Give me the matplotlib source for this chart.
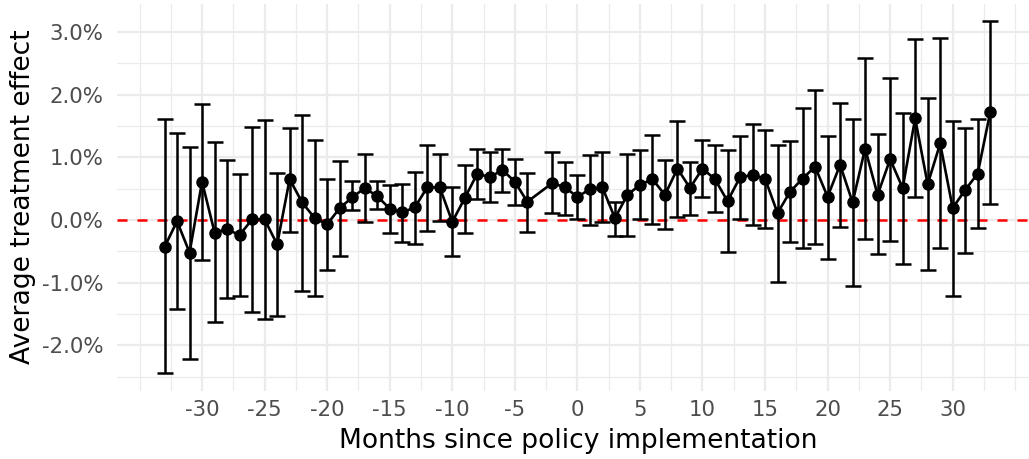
import numpy as np
import matplotlib
matplotlib.use("Agg")
import matplotlib.pyplot as plt
from matplotlib.ticker import FuncFormatter, MultipleLocator

plt.rcParams["font.family"] = ["DejaVu Sans"]
plt.rcParams["axes.unicode_minus"] = False

# event-study estimates (percent), month -3 is the omitted reference period
months = [-33, -32, -31, -30, -29, -28, -27, -26, -25, -24, -23, -22, -21, -20,
          -19, -18, -17, -16, -15, -14, -13, -12, -11, -10, -9, -8, -7, -6, -5,
          -4, -2, -1, 0, 1, 2, 3, 4, 5, 6, 7, 8, 9, 10, 11, 12, 13, 14, 15, 16,
          17, 18, 19, 20, 21, 22, 23, 24, 25, 26, 27, 28, 29, 30, 31, 32, 33]
ate = [-0.43, -0.02, -0.52, 0.61, -0.20, -0.15, -0.24, 0.01, 0.01, -0.39,
       0.65, 0.28, 0.03, -0.07, 0.19, 0.36, 0.51, 0.38, 0.18, 0.12, 0.20,
       0.52, 0.52, -0.03, 0.35, 0.74, 0.68, 0.80, 0.61, 0.29, 0.59, 0.52,
       0.37, 0.49, 0.52, 0.03, 0.40, 0.56, 0.65, 0.40, 0.82, 0.51, 0.82,
       0.65, 0.30, 0.68, 0.72, 0.66, 0.11, 0.45, 0.66, 0.85, 0.37, 0.88,
       0.28, 1.14, 0.40, 0.97, 0.51, 1.62, 0.57, 1.22, 0.19, 0.48, 0.74, 1.72]
ci_low = [-2.44, -1.42, -2.21, -0.64, -1.62, -1.24, -1.21, -1.47, -1.58, -1.53,
          -0.19, -1.13, -1.21, -0.80, -0.57, 0.16, -0.04, 0.18, -0.20, -0.35,
          -0.38, -0.17, -0.02, -0.57, -0.20, 0.33, 0.28, 0.45, 0.24, -0.19,
          0.11, 0.08, 0.01, -0.08, -0.04, -0.26, -0.26, 0.01, -0.06, -0.15,
          0.05, 0.08, 0.37, 0.12, -0.51, 0.01, -0.08, -0.13, -0.99, -0.35,
          -0.45, -0.38, -0.62, -0.11, -1.06, -0.31, -0.55, -0.33, -0.70, 0.36,
          -0.80, -0.45, -1.21, -0.53, -0.12, 0.25]
ci_high = [1.61, 1.39, 1.17, 1.85, 1.24, 0.96, 0.73, 1.49, 1.59, 0.75, 1.46,
           1.67, 1.27, 0.65, 0.94, 0.62, 1.05, 0.62, 0.56, 0.58, 0.77, 1.19,
           1.05, 0.53, 0.87, 1.14, 1.08, 1.14, 0.97, 0.75, 1.08, 0.93, 0.71,
           1.04, 1.08, 0.29, 1.06, 1.12, 1.36, 0.96, 1.58, 0.92, 1.28, 1.20,
           1.12, 1.34, 1.53, 1.44, 1.20, 1.26, 1.78, 2.08, 1.34, 1.86, 1.61,
           2.58, 1.37, 2.26, 1.70, 2.89, 1.95, 2.90, 1.58, 1.47, 1.61, 3.17]

x = np.array(months)
y = np.array(ate)
err = [y - np.array(ci_low), np.array(ci_high) - y]

fig = plt.figure(figsize=(10.29, 4.59), dpi=100)
ax = fig.add_axes([117 / 1029, 1 - 390.5 / 459, 1 - 117 / 1029, 386.8 / 459])

ax.axhline(0, color="red", lw=1.8, linestyle=(0, (4, 4)), zorder=1)
ax.plot(x, y, color="black", lw=1.9, zorder=2)
ax.errorbar(x, y, yerr=err, fmt="none", ecolor="black", elinewidth=1.8,
            capsize=5.5, capthick=1.8, zorder=3)
ax.plot(x, y, "o", color="black", markersize=8, zorder=4)

ax.set_xlim(-36.8, 36.1)
ax.set_ylim(-2.72, 3.45)
ax.xaxis.set_major_locator(MultipleLocator(5))
ax.xaxis.set_minor_locator(MultipleLocator(2.5))
ax.yaxis.set_major_locator(MultipleLocator(1))
ax.yaxis.set_minor_locator(MultipleLocator(0.5))
ax.yaxis.set_major_formatter(FuncFormatter(lambda v, p: f"{v:.1f}%"))
ax.set_xticks([-30, -25, -20, -15, -10, -5, 0, 5, 10, 15, 20, 25, 30])

ax.grid(which="major", color="#EBEBEB", lw=1.6, zorder=0)
ax.grid(which="minor", color="#EBEBEB", lw=0.9, zorder=0)
ax.set_axisbelow(True)
for s in ax.spines.values():
    s.set_visible(False)
ax.tick_params(which="both", length=0, labelsize=15.3, labelcolor="#4D4D4D")
ax.tick_params(axis="y", pad=10)
ax.tick_params(axis="x", pad=7)

ax.set_xlabel("Months since policy implementation", fontsize=19.1)
ax.set_ylabel("Average treatment effect", fontsize=19.1)
ax.xaxis.label.set_va("center")
ax.xaxis.set_label_coords(0.5055, (390.5 - 441) / 386.8)
ax.yaxis.label.set_va("center")
ax.yaxis.set_label_coords((23 - 117) / 912, 0.5)

fig.savefig("out.png", dpi=100)
